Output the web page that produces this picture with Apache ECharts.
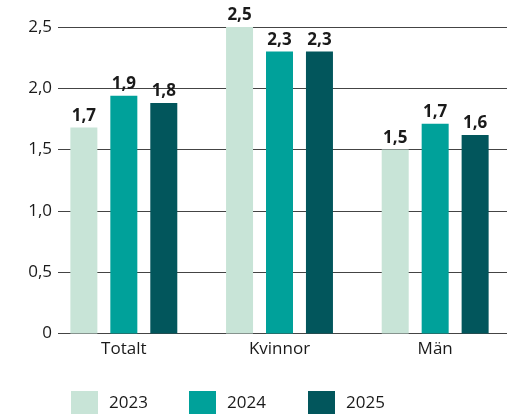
<!DOCTYPE html>
<html>
<head>
<meta charset="utf-8">
<script src="https://cdn.jsdelivr.net/npm/echarts@6/dist/echarts.min.js"></script>
<style>html,body{margin:0;padding:0;background:#fff}#c{width:513px;height:414px}</style>
</head>
<body>
<div id="c"></div>
<script>
const categories = ['Totalt', 'Kvinnor', 'Män'];
const seriesNames = ['2023', '2024', '2025'];
const values2023 = [1.68, 2.50, 1.50];
const values2024 = [1.94, 2.30, 1.71];
const values2025 = [1.88, 2.30, 1.62];
const labels2023 = ['1,7', '2,5', '1,5'];
const labels2024 = ['1,9', '2,3', '1,7'];
const labels2025 = ['1,8', '2,3', '1,6'];
const yTicks = { min: 0, max: 2.5, interval: 0.5 };

const colors = ['#c8e4d7', '#00a19a', '#02565c'];
const legendLefts = [71, 189, 308];
const FONT = '"Open Sans", "Noto Sans", sans-serif';
const allValues = [values2023, values2024, values2025];
const allLabels = [labels2023, labels2024, labels2025];

const chart = echarts.init(document.getElementById('c'), null, { renderer: 'canvas' });
chart.setOption({
  animation: false,
  textStyle: { fontFamily: FONT },
  grid: [
    { left: 58, right: 6, top: 27, height: 306.5 },
    { left: 46, width: 469.5, top: 27, height: 306.5 }
  ],
  legend: seriesNames.map((name, i) => ({
    data: [name],
    left: legendLefts[i], top: 391, padding: 0,
    itemWidth: 27, itemHeight: 25,
    icon: 'rect',
    textStyle: { fontSize: 17, color: '#1a1a1a', fontFamily: FONT, padding: [0, 0, 0, 6] }
  })),
  xAxis: [
    { type: 'category', gridIndex: 0, data: categories, show: false },
    {
      type: 'category', gridIndex: 1, data: categories,
      axisLine: { show: false }, axisTick: { show: false },
      axisLabel: { fontSize: 17, color: '#1a1a1a', margin: 7, fontFamily: FONT }
    }
  ],
  yAxis: [
    {
      type: 'value', gridIndex: 0, min: yTicks.min, max: yTicks.max, interval: yTicks.interval,
      axisLine: { show: false }, axisTick: { show: false },
      axisLabel: {
        fontSize: 17, color: '#1a1a1a', margin: 6, fontFamily: FONT,
        formatter: v => v === 0 ? '0' : v.toFixed(1).replace('.', ',')
      },
      splitLine: { lineStyle: { color: '#444', width: 1 } }
    },
    { type: 'value', gridIndex: 1, min: yTicks.min, max: yTicks.max, interval: yTicks.interval, show: false }
  ],
  series: seriesNames.map((name, i) => ({
    name,
    type: 'bar',
    xAxisIndex: 1, yAxisIndex: 1,
    data: allValues[i],
    barWidth: 27,
    barGap: '48%',
    itemStyle: { color: colors[i] },
    label: {
      show: true, position: 'top', distance: 3,
      fontSize: 17, fontWeight: 'bold', color: '#1a1a1a', fontFamily: FONT,
      formatter: p => allLabels[i][p.dataIndex]
    }
  }))
});
</script>
</body>
</html>
